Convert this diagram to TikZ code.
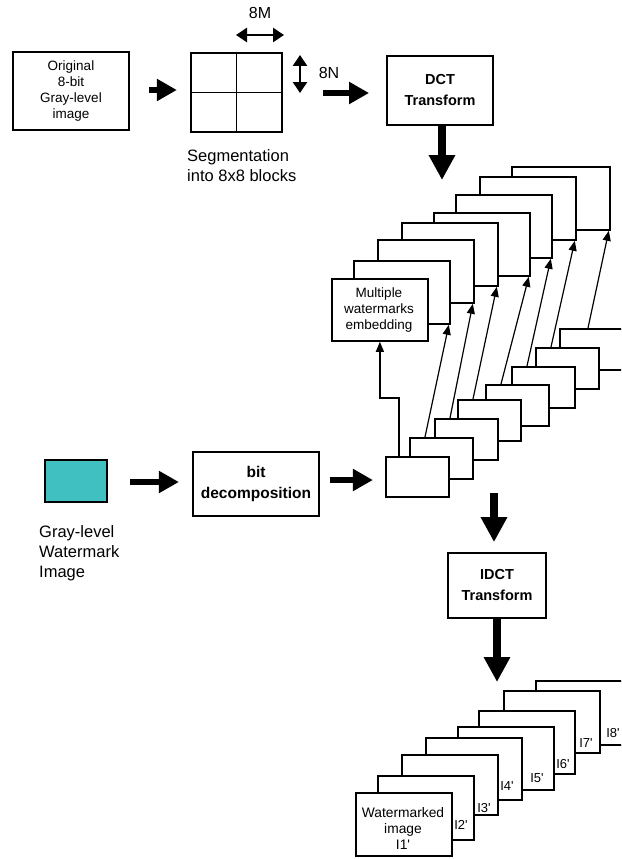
\documentclass[tikz,border=0pt]{standalone}
\usepackage{fontspec}
\setmainfont{Liberation Sans}
\usetikzlibrary{arrows.meta,calc}
\begin{document}
\begin{tikzpicture}[x=1pt,y=-1pt,
  box/.style={draw, line width=1.8pt, fill=white, inner sep=0pt, align=center},
  frame/.style={draw, line width=1.8pt, fill=white, inner sep=0pt, minimum width=96pt, minimum height=63pt, anchor=north west},
  sbox/.style={draw, line width=1.8pt, fill=white, inner sep=0pt, minimum width=63pt, minimum height=41pt, anchor=north west},
  harrow/.style={line width=6.5pt, -{Triangle[length=20pt,width=21pt]}},
  varrow/.style={line width=8pt, -{Triangle[length=25pt,width=25pt]}},
  thinarrow/.style={line width=1.2pt, -{Triangle[length=10pt,width=8pt]}},
  dimarrow/.style={line width=2.6pt, {Triangle[length=11pt,width=14pt]}-{Triangle[length=11pt,width=14pt]}},
  small/.style={font=\fontsize{13.5}{16.3}\selectfont},
  big/.style={font=\fontsize{16.5}{20}\selectfont},
  bold/.style={font=\fontsize{14.5}{21}\selectfont\bfseries},
  lab/.style={font=\fontsize{13}{15}\selectfont, inner sep=0pt},
  plain/.style={inner sep=0pt, align=left, anchor=north west}
]
\useasboundingbox (0,0) rectangle (621,859);
\clip (0,0) rectangle (621,859);

% ---- top row ----
\node[box, small, minimum width=116pt, minimum height=78pt] (orig) at (71,91) {Original\\8-bit\\Gray-level\\image};
\node[draw, line width=1.8pt, minimum width=91pt, minimum height=79pt, inner sep=0pt] (grid) at (236.5,92.5) {};
\draw[line width=1.8pt] (grid.north) -- (grid.south) (grid.west) -- (grid.east);
\node[plain, big] (seg) at (187,149) {Segmentation\\into 8x8 blocks};
\node[font=\fontsize{16}{19}\selectfont, inner sep=0pt] (m8) at (260,13) {8M};
\node[font=\fontsize{16}{19}\selectfont, inner sep=0pt] (n8) at (329,73) {8N};
\coordinate (mA) at (236,35);
\coordinate (mB) at (284,35);
\coordinate (nA) at (300,55);
\coordinate (nB) at (300,93);
\draw[dimarrow] (mA) -- (mB);
\draw[dimarrow] (nA) -- (nB);
\node[box, bold, minimum width=106pt, minimum height=69pt] (dct) at (440,90.5) {DCT\\Transform};
\draw[harrow] ([xshift=19pt,yshift=1pt]orig.east) -- ++(28,0);
\coordinate (eightN) at (323,93);
\draw[harrow] (eightN) -- (eightN -| {$(dct.west)+(-17,0)$});
\coordinate (dctTip) at (442,180);
\draw[varrow] (dctTip |- dct.south) -- (dctTip);

% ---- upper stack of frames ----
\node[frame, minimum width=98pt] (u8) at (511,166) {};
\node[frame] (u7) at (479,176) {};
\node[frame] (u6) at (455,194) {};
\node[frame] (u5) at (433,212) {};
\node[frame] (u4) at (401,222) {};
\node[frame] (u3) at (377,239) {};
\node[frame] (u2) at (353,260) {};
\node[frame, minimum height=62pt] (u1) at (331,278) {};
\node[small, align=center, inner sep=0pt] (u1t) at (379,310) {Multiple\\watermarks\\embedding};

% ---- bit planes ----
\node[sbox] (b8) at (559,328) {};
\node[sbox] (b7) at (535,347) {};
\node[sbox] (b6) at (511,366) {};
\node[sbox] (b5) at (485,384) {};
\node[sbox] (b4) at (457,399) {};
\node[sbox] (b3) at (434,418) {};
\node[sbox] (b2) at (409,437) {};
\node[sbox, minimum height=40pt] (b1) at (385,456) {};

\draw[thinarrow] ([xshift=14pt]b1.north west) -- ++(0,-58) -| (u1.south);
\draw[thinarrow] ([xshift=16pt]b2.north west) -- ([xshift=-2pt]u2.south east);
\draw[thinarrow] ([xshift=16pt]b3.north west) -- ([xshift=-2pt]u3.south east);
\draw[thinarrow] ([xshift=16pt]b4.north west) -- ([xshift=-2pt]u4.south east);
\draw[thinarrow] ([xshift=16pt]b5.north west) -- ([xshift=-2pt]u5.south east);
\draw[thinarrow] ([xshift=16pt]b6.north west) -- ([xshift=-2pt]u6.south east);
\draw[thinarrow] ([xshift=16pt]b7.north west) -- ([xshift=-2pt]u7.south east);
\draw[thinarrow] ([xshift=29pt]b8.north west) -- ([xshift=-2pt]u8.south east);

% ---- watermark row ----
\node[draw, line width=1.8pt, fill={rgb,255:red,64;green,192;blue,192}, minimum width=62pt, minimum height=42pt, inner sep=0pt] (wm) at (76,481) {};
\node[plain, big] (wmt) at (39,525) {Gray-level\\Watermark\\Image};
\node[box, font=\fontsize{15.5}{21}\selectfont\bfseries, minimum width=126pt, minimum height=64pt] (bit) at (256,484) {bit\\decomposition};
\draw[harrow] ([xshift=22pt,yshift=-1pt]wm.east) -- ++(49,0);
\draw[harrow] ([xshift=10pt,yshift=4pt]bit.east) -- ++(43,0);

% ---- IDCT ----
\coordinate (stackOut) at (494,493);
\node[box, bold, minimum width=98pt, minimum height=65pt] (idct) at (497,585.5) {IDCT\\Transform};
\draw[varrow] (stackOut) -- ([yshift=10pt]stackOut |- idct.north);
\coordinate (idctTip) at (497,682);
\draw[varrow] (idct.south) -- (idctTip);

% ---- lower stack of watermarked images ----
\node[frame, minimum height=64pt] (L8) at (535,680) {};
\node[frame, minimum height=62pt] (L7) at (503,690) {};
\node[frame] (L6) at (478,710) {};
\node[frame] (L5) at (457,726) {};
\node[frame, minimum height=62pt] (L4) at (425,737) {};
\node[frame, minimum height=60pt] (L3) at (401,754) {};
\node[frame, minimum height=64pt] (L2) at (377,775) {};
\node[frame] (L1) at (355,792) {};
\node[font=\fontsize{13.8}{16}\selectfont, align=center, inner sep=0pt] (L1t) at (403,828) {Watermarked\\image\\I1\textquotesingle};
\node[lab] (l2) at (461,825) {I2\textquotesingle};
\node[lab] (l3) at (484,808) {I3\textquotesingle};
\node[lab] (l4) at (507,786) {I4\textquotesingle};
\node[lab] (l5) at (537,778) {I5\textquotesingle};
\node[lab] (l6) at (563,764) {I6\textquotesingle};
\node[lab] (l7) at (586,743) {I7\textquotesingle};
\node[lab] (l8) at (613,733) {I8\textquotesingle};
\end{tikzpicture}
\end{document}
